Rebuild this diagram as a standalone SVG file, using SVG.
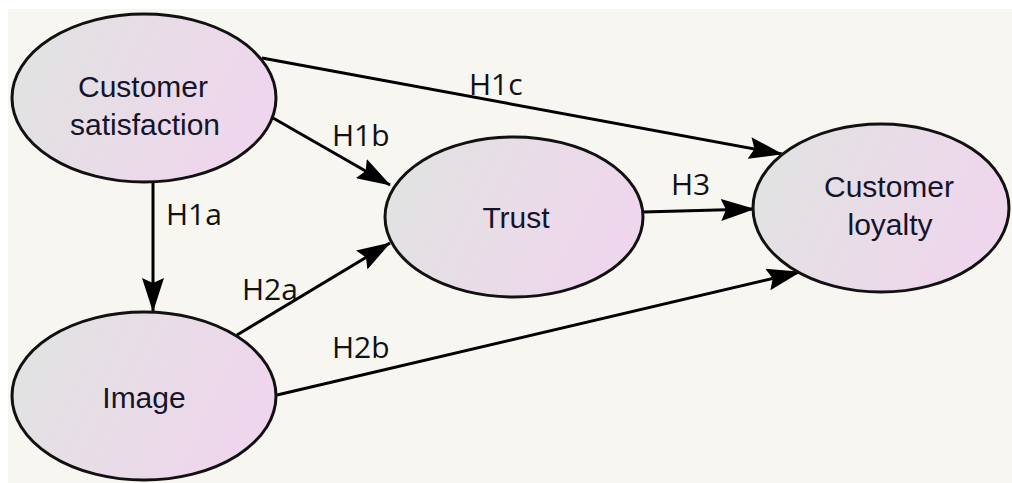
<svg xmlns="http://www.w3.org/2000/svg" width="1012" height="483" viewBox="0 0 1012 483">
<defs>
<linearGradient id="fill" x1="0" y1="0" x2="1" y2="0.3">
<stop offset="0" stop-color="#dfe4e1"/>
<stop offset="0.5" stop-color="#e8dde6"/>
<stop offset="1" stop-color="#eed6ec"/>
</linearGradient>
<marker id="arr" viewBox="0 0 34 22" refX="33" refY="11" markerWidth="34" markerHeight="22" markerUnits="userSpaceOnUse" orient="auto">
<path d="M0,0 L34,11 L0,22 L5,11 Z" fill="#000"/>
</marker>
<style>
.node ellipse{fill:url(#fill);stroke:#111;stroke-width:3}
.node text{font-family:"Liberation Sans",Arial,sans-serif;font-size:30px;fill:#14142a;text-anchor:middle}
.lbl{font-family:"Open Sans","DejaVu Sans",sans-serif;font-size:30px;fill:#111}
#connectors line{stroke:#000;stroke-width:3;fill:none}
</style>
</defs>
<rect x="0" y="0" width="1012" height="483" fill="#ffffff"/>
<rect x="8" y="9" width="1004" height="474" fill="#f8f6f1"/>
<g id="connectors">
<line x1="153" y1="182" x2="153" y2="311" marker-end="url(#arr)"/>
<line x1="273" y1="118" x2="390" y2="185" marker-end="url(#arr)"/>
<line x1="262" y1="58" x2="782" y2="154" marker-end="url(#arr)"/>
<line x1="643" y1="212" x2="754" y2="209" marker-end="url(#arr)"/>
<line x1="237" y1="335" x2="390" y2="243" marker-end="url(#arr)"/>
<line x1="277" y1="395" x2="800" y2="272" marker-end="url(#arr)"/>
<text class="lbl" x="166" y="225">H1a</text>
<text class="lbl" x="332" y="146">H1b</text>
<text class="lbl" x="469" y="95">H1c</text>
<text class="lbl" x="242" y="300">H2a</text>
<text class="lbl" x="332" y="358">H2b</text>
<text class="lbl" x="671" y="195">H3</text>
</g>
<g id="satisfaction" class="node">
<ellipse cx="144" cy="98" rx="132" ry="84"/>
<text x="143" y="97">Customer</text>
<text x="145" y="135">satisfaction</text>
</g>
<g id="trust" class="node">
<ellipse cx="514" cy="217" rx="129" ry="80"/>
<text x="516" y="228">Trust</text>
</g>
<g id="loyalty" class="node">
<ellipse cx="881" cy="208" rx="128" ry="84"/>
<text x="889" y="197">Customer</text>
<text x="890" y="235">loyalty</text>
</g>
<g id="image" class="node">
<ellipse cx="144" cy="396" rx="132" ry="84"/>
<text x="144" y="408">Image</text>
</g>
</svg>
